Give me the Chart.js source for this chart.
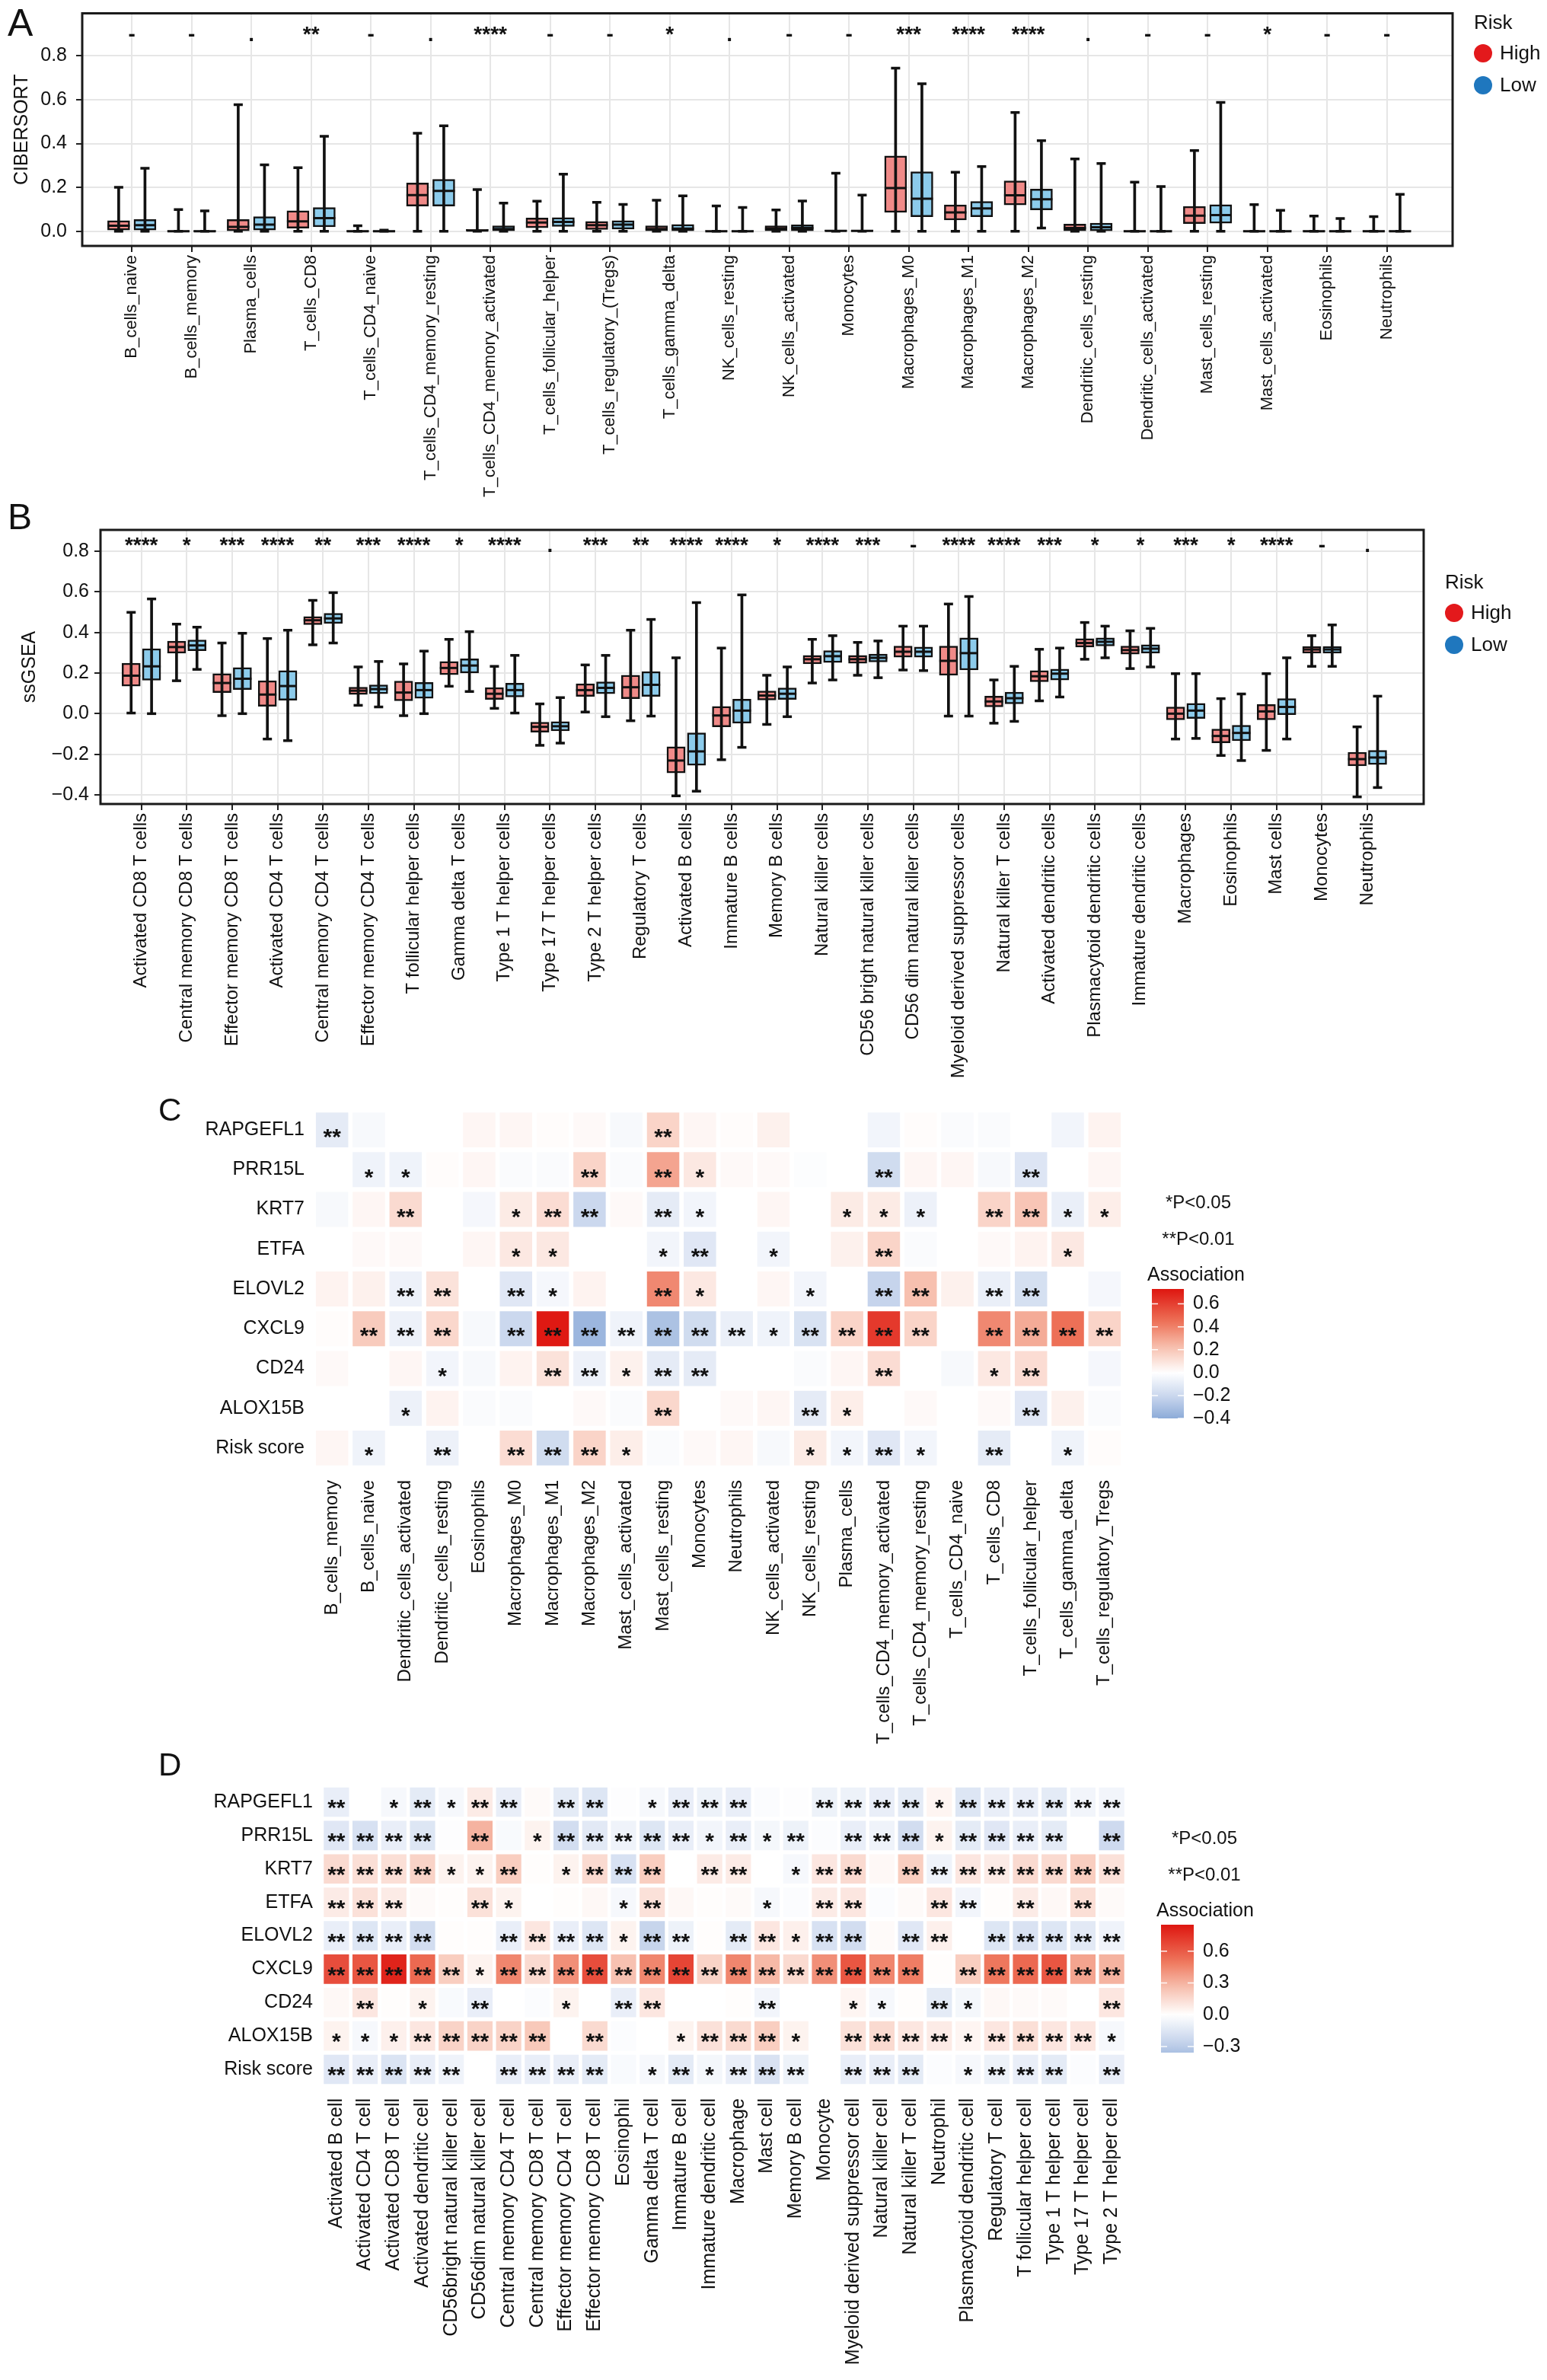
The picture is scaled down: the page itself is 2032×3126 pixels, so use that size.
<!DOCTYPE html>
<html>
<head>
<meta charset="utf-8">
<script src="https://cdn.jsdelivr.net/npm/chart.js@4.4.1/dist/chart.umd.min.js"></script>
<style>
html, body { margin: 0; padding: 0; background: #fff; }
#wrap { position: relative; width: 2032px; height: 3126px; background: #fff; }
canvas { position: absolute; left: 0; }
</style>
</head>
<body>
<div id="wrap">
	<canvas id="panelA" width="2032" height="668" style="top:0px"></canvas>
	<canvas id="panelB" width="2032" height="800" style="top:640px"></canvas>
	<canvas id="panelC" width="2032" height="900" style="top:1400px"></canvas>
	<canvas id="panelD" width="2032" height="836" style="top:2290px"></canvas>
</div>
<script>
// ---------- A: CIBERSORT ----------
const aCells = ["B_cells_naive", "B_cells_memory", "Plasma_cells", "T_cells_CD8", "T_cells_CD4_naive",
	"T_cells_CD4_memory_resting", "T_cells_CD4_memory_activated", "T_cells_follicular_helper",
	"T_cells_regulatory_(Tregs)", "T_cells_gamma_delta", "NK_cells_resting", "NK_cells_activated",
	"Monocytes", "Macrophages_M0", "Macrophages_M1", "Macrophages_M2", "Dendritic_cells_resting",
	"Dendritic_cells_activated", "Mast_cells_resting", "Mast_cells_activated", "Eosinophils", "Neutrophils"];
const aSig = ["-", "-", ".", "**", "-", ".", "****", "-", "-", "*", ".", "-", "-", "***", "****", "****", ".", "-", "-", "*", "-", "-"];
// [min, q1, median, q3, max]
const aHigh = [
	[0, 0.005, 0.025, 0.048, 0.200], [0, 0, 0, 0, 0.099], [0, 0.002, 0.020, 0.053, 0.577],
	[0, 0.014, 0.045, 0.093, 0.290], [0, 0, 0, 0, 0.025], [0, 0.115, 0.165, 0.220, 0.447],
	[0, 0, 0.003, 0.008, 0.190], [0, 0.016, 0.040, 0.060, 0.137], [0, 0.008, 0.028, 0.045, 0.132],
	[0, 0.002, 0.010, 0.025, 0.141], [0, 0, 0, 0.003, 0.115], [0, 0.002, 0.012, 0.025, 0.097],
	[0, 0, 0.002, 0.005, 0.265], [0, 0.086, 0.197, 0.343, 0.744], [0, 0.051, 0.086, 0.120, 0.269],
	[0, 0.120, 0.164, 0.230, 0.542], [0, 0.002, 0.015, 0.033, 0.330], [0, 0, 0, 0.002, 0.224],
	[0, 0.035, 0.071, 0.113, 0.368], [0, 0, 0, 0.002, 0.121], [0, 0, 0, 0.001, 0.069],
	[0, 0, 0, 0.001, 0.067]
];
const aLow = [
	[0, 0.005, 0.028, 0.053, 0.287], [0, 0, 0, 0, 0.093], [0, 0.005, 0.030, 0.066, 0.303],
	[0, 0.020, 0.060, 0.108, 0.433], [0, 0, 0, 0, 0.005], [0, 0.115, 0.184, 0.237, 0.481],
	[0, 0.002, 0.010, 0.025, 0.128], [0, 0.022, 0.042, 0.062, 0.260], [0, 0.010, 0.030, 0.048, 0.122],
	[0, 0.002, 0.012, 0.031, 0.161], [0, 0, 0, 0.003, 0.108], [0, 0.002, 0.015, 0.029, 0.138],
	[0, 0, 0.002, 0.005, 0.165], [0, 0.066, 0.148, 0.271, 0.673], [0, 0.066, 0.104, 0.136, 0.295],
	[0.015, 0.097, 0.146, 0.192, 0.413], [0, 0.002, 0.018, 0.037, 0.309], [0, 0, 0, 0.002, 0.204],
	[0, 0.037, 0.074, 0.121, 0.588], [0, 0, 0, 0.002, 0.095], [0, 0, 0, 0.001, 0.058],
	[0, 0, 0, 0.001, 0.168]
];
const aTicks = [0, 0.2, 0.4, 0.6, 0.8];

// ---------- B: ssGSEA ----------
const bCells = ["Activated CD8 T cells", "Central memory CD8 T cells", "Effector memory CD8 T cells",
	"Activated CD4 T cells", "Central memory CD4 T cells", "Effector memory CD4 T cells",
	"T follicular helper cells", "Gamma delta T cells", "Type 1 T helper cells", "Type 17 T helper cells",
	"Type 2 T helper cells", "Regulatory T cells", "Activated B cells", "Immature B cells", "Memory B cells",
	"Natural killer cells", "CD56 bright natural killer cells", "CD56 dim natural killer cells",
	"Myeloid derived suppressor cells", "Natural killer T cells", "Activated dendritic cells",
	"Plasmacytoid dendritic cells", "Immature dendritic cells", "Macrophages", "Eosinophils",
	"Mast cells", "Monocytes", "Neutrophils"];
const bSig = ["****", "*", "***", "****", "**", "***", "****", "*", "****", ".", "***", "**", "****", "****",
	"*", "****", "***", "-", "****", "****", "***", "*", "*", "***", "*", "****", "-", "."];
const bHigh = [
	[0.003, 0.136, 0.187, 0.248, 0.499], [0.162, 0.298, 0.328, 0.357, 0.441], [-0.010, 0.104, 0.151, 0.197, 0.348],
	[-0.125, 0.036, 0.094, 0.162, 0.370], [0.339, 0.438, 0.460, 0.478, 0.558], [0.041, 0.094, 0.113, 0.130, 0.230],
	[-0.010, 0.063, 0.104, 0.160, 0.245], [0.135, 0.192, 0.225, 0.257, 0.366], [0.026, 0.070, 0.098, 0.128, 0.233],
	[-0.156, -0.091, -0.065, -0.042, 0.048], [0.008, 0.085, 0.116, 0.147, 0.240], [-0.035, 0.074, 0.130, 0.189, 0.411],
	[-0.405, -0.292, -0.231, -0.163, 0.275], [-0.227, -0.065, -0.009, 0.036, 0.323], [-0.053, 0.067, 0.089, 0.112, 0.189],
	[0.151, 0.245, 0.268, 0.287, 0.366], [0.189, 0.248, 0.268, 0.287, 0.351], [0.215, 0.278, 0.305, 0.333, 0.431],
	[-0.012, 0.189, 0.260, 0.333, 0.540], [-0.047, 0.033, 0.060, 0.086, 0.166], [0.063, 0.157, 0.184, 0.212, 0.317],
	[0.268, 0.328, 0.348, 0.369, 0.449], [0.222, 0.293, 0.313, 0.333, 0.408], [-0.125, -0.030, 0.000, 0.033, 0.197],
	[-0.206, -0.144, -0.110, -0.076, 0.074], [-0.181, -0.030, 0.011, 0.045, 0.197], [0.233, 0.298, 0.316, 0.331, 0.384],
	[-0.410, -0.257, -0.224, -0.190, -0.065]
];
const bLow = [
	[0.000, 0.165, 0.233, 0.320, 0.565], [0.218, 0.310, 0.336, 0.363, 0.426], [0.000, 0.119, 0.172, 0.227, 0.396],
	[-0.133, 0.066, 0.136, 0.212, 0.411], [0.348, 0.444, 0.469, 0.494, 0.596], [0.033, 0.098, 0.121, 0.142, 0.257],
	[0.000, 0.076, 0.116, 0.154, 0.308], [0.109, 0.200, 0.237, 0.270, 0.404], [0.003, 0.082, 0.116, 0.150, 0.287],
	[-0.145, -0.085, -0.062, -0.039, 0.079], [-0.015, 0.098, 0.127, 0.157, 0.287], [-0.012, 0.085, 0.142, 0.207, 0.464],
	[-0.382, -0.254, -0.186, -0.095, 0.547], [-0.166, -0.047, 0.015, 0.071, 0.585], [-0.015, 0.070, 0.098, 0.127, 0.230],
	[0.166, 0.252, 0.283, 0.310, 0.384], [0.177, 0.255, 0.275, 0.293, 0.358], [0.212, 0.278, 0.305, 0.328, 0.431],
	[-0.012, 0.215, 0.298, 0.373, 0.577], [-0.038, 0.048, 0.076, 0.106, 0.233], [0.082, 0.166, 0.197, 0.219, 0.323],
	[0.275, 0.333, 0.354, 0.373, 0.431], [0.230, 0.298, 0.320, 0.339, 0.420], [-0.122, -0.024, 0.015, 0.051, 0.197],
	[-0.231, -0.133, -0.095, -0.057, 0.097], [-0.125, -0.005, 0.033, 0.074, 0.275], [0.233, 0.298, 0.316, 0.331, 0.437],
	[-0.364, -0.251, -0.216, -0.181, 0.086]
];
const bTicks = [-0.4, -0.2, 0, 0.2, 0.4, 0.6, 0.8];

// ---------- C: CIBERSORT association ----------
const genes = ["RAPGEFL1", "PRR15L", "KRT7", "ETFA", "ELOVL2", "CXCL9", "CD24", "ALOX15B", "Risk score"];
const cCells = ["B_cells_memory", "B_cells_naive", "Dendritic_cells_activated", "Dendritic_cells_resting",
	"Eosinophils", "Macrophages_M0", "Macrophages_M1", "Macrophages_M2", "Mast_cells_activated",
	"Mast_cells_resting", "Monocytes", "Neutrophils", "NK_cells_activated", "NK_cells_resting", "Plasma_cells",
	"T_cells_CD4_memory_activated", "T_cells_CD4_memory_resting", "T_cells_CD4_naive", "T_cells_CD8",
	"T_cells_follicular_helper", "T_cells_gamma_delta", "T_cells_regulatory_Tregs"];
const cValues = [
	[-0.10, -0.03, 0, 0, 0.03, 0.03, 0.01, 0.02, -0.03, 0.15, 0.03, 0.01, 0.05, 0, 0, -0.05, 0.01, -0.02, -0.02, 0, -0.05, 0.04],
	[0, -0.06, -0.06, 0.01, 0.03, -0.02, -0.02, 0.15, -0.02, 0.30, 0.08, 0.02, 0.02, -0.01, 0, -0.18, 0.03, 0.03, -0.03, -0.13, 0, 0.03],
	[-0.03, 0.03, 0.13, 0, -0.04, 0.07, 0.12, -0.20, 0.02, -0.10, -0.05, 0, 0.03, 0, 0.07, 0.07, -0.07, 0, 0.15, 0.20, -0.08, 0.06],
	[0, 0.02, 0.02, 0, 0.03, 0.08, 0.08, 0, 0, -0.05, -0.12, 0, -0.05, 0, 0.05, 0.15, -0.02, 0, 0.02, 0.04, 0.08, 0],
	[0.04, 0.05, -0.07, 0.10, 0, -0.12, -0.04, 0.04, 0, 0.38, 0.08, 0, 0.03, -0.05, 0, -0.22, 0.22, 0.05, -0.08, -0.16, 0, -0.04],
	[0.01, 0.18, -0.07, 0.14, -0.03, -0.20, 0.72, -0.35, -0.06, -0.30, -0.18, -0.08, -0.06, -0.15, 0.15, 0.62, 0.15, 0, 0.38, 0.28, 0.45, 0.15],
	[0.02, 0, 0.03, -0.05, -0.03, 0.04, 0.10, -0.07, 0.05, -0.10, -0.10, 0, 0, -0.02, 0.03, 0.12, 0, -0.03, 0.08, 0.12, 0, -0.04],
	[0, 0, -0.07, 0.04, -0.02, -0.02, 0, 0.02, -0.02, 0.14, 0, 0.02, 0.03, -0.10, 0.06, 0, 0.02, 0, 0.02, -0.12, 0.05, -0.02],
	[0.03, -0.06, 0, -0.07, 0, 0.12, -0.18, 0.15, 0.06, -0.02, 0.02, 0.03, -0.03, 0.07, -0.05, -0.12, -0.05, 0, -0.10, 0, -0.06, 0.01]
];
const cStars = [
	[2, 0, 0, 0, 0, 0, 0, 0, 0, 2, 0, 0, 0, 0, 0, 0, 0, 0, 0, 0, 0, 0],
	[0, 1, 1, 0, 0, 0, 0, 2, 0, 2, 1, 0, 0, 0, 0, 2, 0, 0, 0, 2, 0, 0],
	[0, 0, 2, 0, 0, 1, 2, 2, 0, 2, 1, 0, 0, 0, 1, 1, 1, 0, 2, 2, 1, 1],
	[0, 0, 0, 0, 0, 1, 1, 0, 0, 1, 2, 0, 1, 0, 0, 2, 0, 0, 0, 0, 1, 0],
	[0, 0, 2, 2, 0, 2, 1, 0, 0, 2, 1, 0, 0, 1, 0, 2, 2, 0, 2, 2, 0, 0],
	[0, 2, 2, 2, 0, 2, 2, 2, 2, 2, 2, 2, 1, 2, 2, 2, 2, 0, 2, 2, 2, 2],
	[0, 0, 0, 1, 0, 0, 2, 2, 1, 2, 2, 0, 0, 0, 0, 2, 0, 0, 1, 2, 0, 0],
	[0, 0, 1, 0, 0, 0, 0, 0, 0, 2, 0, 0, 0, 2, 1, 0, 0, 0, 0, 2, 0, 0],
	[0, 1, 0, 2, 0, 2, 2, 2, 1, 0, 0, 0, 0, 1, 1, 2, 1, 0, 2, 0, 1, 0]
];
const cBarTicks = [-0.4, -0.2, 0, 0.2, 0.4, 0.6];

// ---------- D: ssGSEA association ----------
const dCells = ["Activated B cell", "Activated CD4 T cell", "Activated CD8 T cell", "Activated dendritic cell",
	"CD56bright natural killer cell", "CD56dim natural killer cell", "Central memory CD4 T cell",
	"Central memory CD8 T cell", "Effector memory CD4 T cell", "Effector memory CD8 T cell", "Eosinophil",
	"Gamma delta T cell", "Immature B cell", "Immature dendritic cell", "Macrophage", "Mast cell",
	"Memory B cell", "Monocyte", "Myeloid derived suppressor cell", "Natural killer cell",
	"Natural killer T cell", "Neutrophil", "Plasmacytoid dendritic cell", "Regulatory T cell",
	"T follicular helper cell", "Type 1 T helper cell", "Type 17 T helper cell", "Type 2 T helper cell"];
const dValues = [
	[-0.10, 0, -0.04, -0.12, -0.04, 0.08, -0.10, 0.02, -0.12, -0.15, -0.01, -0.04, -0.10, -0.08, -0.10, -0.02, -0.01, -0.08, -0.08, -0.10, -0.12, 0.04, -0.15, -0.10, -0.10, -0.12, -0.06, -0.06],
	[-0.14, -0.18, -0.10, -0.15, -0.01, 0.30, -0.03, 0.05, -0.20, -0.13, -0.07, -0.15, -0.10, -0.06, -0.10, -0.05, -0.08, -0.02, -0.10, -0.07, -0.20, 0.05, -0.12, -0.14, -0.10, -0.12, 0, -0.22],
	[0.15, 0.13, 0.13, 0.18, 0.05, 0.05, 0.20, 0.01, 0.05, 0.15, -0.18, 0.20, 0, 0.08, 0.08, 0, -0.04, 0.10, 0.15, 0.03, 0.20, -0.07, 0.10, 0.08, 0.15, 0.15, 0.20, 0.12],
	[0.08, 0.12, 0.08, 0.02, 0.01, 0.12, 0.05, 0, 0.01, 0.03, -0.04, 0.12, 0.03, 0.01, 0.02, -0.04, -0.02, 0.08, 0.10, -0.02, 0.02, 0.10, -0.06, 0.01, 0.08, 0.03, 0.13, 0.02],
	[-0.10, -0.15, -0.10, -0.20, 0.01, 0.01, -0.10, 0.10, -0.10, -0.15, 0.05, -0.25, -0.08, 0.01, -0.12, 0.10, 0.06, -0.18, -0.20, 0.02, -0.14, 0.06, 0, -0.15, -0.17, -0.15, -0.13, -0.07],
	[0.65, 0.62, 0.80, 0.55, 0.20, 0.05, 0.45, 0.15, 0.42, 0.65, 0.25, 0.45, 0.68, 0.18, 0.45, 0.28, 0.15, 0.42, 0.62, 0.45, 0.48, 0.01, 0.20, 0.50, 0.55, 0.62, 0.35, 0.30],
	[0.03, 0.10, 0.01, 0.05, -0.03, -0.10, 0, -0.02, 0.05, 0, -0.10, 0.10, 0, 0, 0.01, -0.06, 0, 0, 0.04, -0.04, 0.01, -0.12, -0.05, 0.03, 0.02, 0.02, 0, 0.10],
	[0.05, -0.04, 0.06, 0.10, 0.18, 0.18, 0.18, 0.22, 0, 0.15, -0.02, 0, 0.05, 0.12, 0.15, 0.20, 0.05, 0, 0.12, 0.15, 0.10, 0.08, 0.04, 0.10, 0.13, 0.10, 0.10, -0.04],
	[-0.14, -0.10, -0.16, -0.10, -0.07, 0, -0.10, -0.10, -0.10, -0.12, -0.03, -0.04, -0.12, -0.05, -0.10, -0.17, -0.08, 0, -0.10, -0.10, -0.12, -0.02, -0.04, -0.08, -0.10, -0.12, -0.02, -0.10]
];
const dStars = [
	[2, 0, 1, 2, 1, 2, 2, 0, 2, 2, 0, 1, 2, 2, 2, 0, 0, 2, 2, 2, 2, 1, 2, 2, 2, 2, 2, 2],
	[2, 2, 2, 2, 0, 2, 0, 1, 2, 2, 2, 2, 2, 1, 2, 1, 2, 0, 2, 2, 2, 1, 2, 2, 2, 2, 0, 2],
	[2, 2, 2, 2, 1, 1, 2, 0, 1, 2, 2, 2, 0, 2, 2, 0, 1, 2, 2, 0, 2, 2, 2, 2, 2, 2, 2, 2],
	[2, 2, 2, 0, 0, 2, 1, 0, 0, 0, 1, 2, 0, 0, 0, 1, 0, 2, 2, 0, 0, 2, 2, 0, 2, 0, 2, 0],
	[2, 2, 2, 2, 0, 0, 2, 2, 2, 2, 1, 2, 2, 0, 2, 2, 1, 2, 2, 0, 2, 2, 0, 2, 2, 2, 2, 2],
	[2, 2, 2, 2, 2, 1, 2, 2, 2, 2, 2, 2, 2, 2, 2, 2, 2, 2, 2, 2, 2, 0, 2, 2, 2, 2, 2, 2],
	[0, 2, 0, 1, 0, 2, 0, 0, 1, 0, 2, 2, 0, 0, 0, 2, 0, 0, 1, 1, 0, 2, 1, 0, 0, 0, 0, 2],
	[1, 1, 1, 2, 2, 2, 2, 2, 0, 2, 0, 0, 1, 2, 2, 2, 1, 0, 2, 2, 2, 2, 1, 2, 2, 2, 2, 1],
	[2, 2, 2, 2, 2, 0, 2, 2, 2, 2, 0, 1, 2, 1, 2, 2, 2, 0, 2, 2, 2, 0, 1, 2, 2, 2, 0, 2]
];
const dBarTicks = [-0.3, 0, 0.3, 0.6];

const FONT = '"Liberation Sans", Arial, Helvetica, sans-serif';
Chart.defaults.font.family = FONT;
Chart.defaults.color = "#111";
const W = 2032;

function minus(v) {
	return v.toFixed(1).replace("-", "\u2212");
}

// colour scale white -> red / white -> blue
const redStops = [[0, [255, 255, 255]], [0.3, [247, 192, 175]], [0.6, [238, 116, 90]], [1, [222, 22, 16]]];
const blueStops = [[0, [255, 255, 255]], [0.3, [198, 212, 236]], [0.6, [128, 162, 212]], [1, [62, 106, 180]]];
function assocColor(v, m) {
	const t = Math.min(1, Math.abs(v) / m);
	const st = v >= 0 ? redStops : blueStops;
	for (let i = 1; i < st.length; i++) {
		if (t <= st[i][0]) {
			const f = (t - st[i - 1][0]) / (st[i][0] - st[i - 1][0]);
			const c = st[i - 1][1].map((a, k) => Math.round(a + (st[i][1][k] - a) * f));
			return "rgb(" + c.join(",") + ")";
		}
	}
	return "rgb(" + st[st.length - 1][1].join(",") + ")";
}

// boxplot extras: frame, significance marks, legend, panel letter
const boxDecor = {
	id: "boxDecor",
	afterDraw(chart, args, o) {
		const { ctx, chartArea: a, scales: { x, y } } = chart;
		ctx.save();
		ctx.strokeStyle = "#1a1a1a";
		ctx.lineWidth = 3;
		ctx.strokeRect(a.left, a.top, a.right - a.left, a.bottom - a.top);

		ctx.fillStyle = "#111";
		ctx.font = "bold 28px " + FONT;
		ctx.textAlign = "center";
		ctx.textBaseline = "alphabetic";
		o.sig.forEach((s, i) => ctx.fillText(s, x.getPixelForValue(i), y.getPixelForValue(o.sigY)));

		ctx.textAlign = "left";
		ctx.textBaseline = "middle";
		ctx.font = "26px " + FONT;
		ctx.fillText("Risk", o.legX - 12, o.legY);
		[["High", "#E3191C", o.legY + 39], ["Low", "#1F77BE", o.legY + 81]].forEach(([t, c, yy]) => {
			ctx.beginPath();
			ctx.arc(o.legX, yy, 12, 0, Math.PI * 2);
			ctx.fillStyle = c;
			ctx.fill();
			ctx.fillStyle = "#111";
			ctx.fillText(t, o.legX + 22, yy + 1);
		});

		ctx.font = o.letterSize + "px " + FONT;
		ctx.fillText(o.letter, o.letterX, o.letterY);
		ctx.restore();
	}
};

function boxDatasets(high, low, off, boxW) {
	const ds = [];
	[[high, -off, "#F08A88"], [low, off, "#8CCBEB"]].forEach(([arr, dx, fill]) => {
		ds.push({
			type: "bar", order: 3, grouped: false, barThickness: boxW,
			data: arr.map((d, i) => ({ x: i + dx, y: [d[1], Math.max(d[3], d[1] + 0.0005)] })),
			backgroundColor: fill, borderColor: "#111", borderWidth: 2.5, borderSkipped: false
		});
		ds.push({
			type: "bar", order: 2, grouped: false, barThickness: 3,
			data: arr.map((d, i) => ({ x: i + dx, y: [d[0], d[4]] })),
			backgroundColor: "#111", borderWidth: 0
		});
		ds.push({
			type: "line", order: 1, showLine: false,
			data: arr.map((d, i) => ({ x: i + dx, y: d[2] })),
			pointStyle: "line", pointRadius: boxW / 2, pointBorderWidth: 3, pointBorderColor: "#111"
		});
		ds.push({
			type: "line", order: 1, showLine: false,
			data: arr.flatMap((d, i) => [{ x: i + dx, y: d[0] }, { x: i + dx, y: d[4] }]),
			pointStyle: "line", pointRadius: 6, pointBorderWidth: 3.5, pointBorderColor: "#111"
		});
	});
	return ds;
}

function boxChart(id, c) {
	const H = document.getElementById(id).height;
	return new Chart(document.getElementById(id), {
		type: "bar",
		data: { datasets: boxDatasets(c.high, c.low, c.off, c.boxW) },
		options: {
			responsive: false, animation: false, devicePixelRatio: 1, events: [],
			layout: { padding: { left: 0, top: c.area.top, right: W - c.area.right, bottom: 0 } },
			plugins: { legend: { display: false }, tooltip: { enabled: false }, boxDecor: c.decor },
			scales: {
				x: {
					type: "linear", min: c.xMin, max: c.xMax, offset: false,
					afterBuildTicks: (s) => { s.ticks = c.names.map((n, i) => ({ value: i })); },
					afterFit: (s) => { s.height = H - c.area.bottom; s.paddingLeft = 0; s.paddingRight = 0; },
					grid: { color: "#E6E6E6", lineWidth: 2, tickColor: "#222", tickWidth: 2, tickLength: 8, offset: false },
					border: { display: false },
					ticks: {
						autoSkip: false, minRotation: 90, maxRotation: 90, padding: 4,
						font: { size: c.xFont }, color: "#111",
						callback: (v) => c.names[v] ?? ""
					}
				},
				y: {
					min: c.yMin, max: c.yMax,
					afterBuildTicks: (s) => { s.ticks = c.yTicks.map((v) => ({ value: v })); },
					afterFit: (s) => { s.width = c.area.left; s.paddingTop = 0; s.paddingBottom = 0; },
					grid: { color: "#E6E6E6", lineWidth: 2, tickColor: "#222", tickWidth: 2, tickLength: 8 },
					border: { display: false },
					ticks: { padding: c.yPad, font: { size: 25 }, color: "#111", callback: (v) => minus(v) },
					title: { display: true, text: c.title, font: { size: 25 }, color: "#111", padding: { top: c.titlePad, bottom: 0 } }
				}
			}
		},
		plugins: [boxDecor]
	});
}

// heatmap extras: stars, colour bar, p-value notes, panel letter
const heatDecor = {
	id: "heatDecor",
	afterDraw(chart, args, o) {
		const { ctx, scales: { x, y } } = chart;
		ctx.save();
		ctx.fillStyle = "#111";
		ctx.font = "bold 30px " + FONT;
		ctx.textAlign = "center";
		ctx.textBaseline = "middle";
		o.stars.forEach((row, ri) => row.forEach((n, ci) => {
			if (n > 0) ctx.fillText("*".repeat(n), x.getPixelForValue(ci), y.getPixelForValue(ri) + o.starDy);
		}));

		const L = o.leg;
		ctx.font = "24px " + FONT;
		ctx.textBaseline = "middle";
		ctx.fillText("*P<0.05", L.cx, L.p1);
		ctx.fillText("**P<0.01", L.cx, L.p2);
		ctx.textAlign = "left";
		ctx.font = "25px " + FONT;
		ctx.fillText("Association", L.x - 6, L.title);

		const vy = (v) => L.bottom - (v - L.vmin) / (L.vmax - L.vmin) * (L.bottom - L.top);
		const g = ctx.createLinearGradient(0, L.bottom, 0, L.top);
		for (let k = 0; k <= 20; k++) {
			const v = L.vmin + (L.vmax - L.vmin) * k / 20;
			g.addColorStop(k / 20, assocColor(v, o.max));
		}
		ctx.fillStyle = g;
		ctx.fillRect(L.x, L.top, L.w, L.bottom - L.top);
		ctx.strokeStyle = "rgba(255,255,255,0.9)";
		ctx.lineWidth = 1.5;
		ctx.font = "25px " + FONT;
		ctx.fillStyle = "#111";
		L.ticks.forEach((v) => {
			const py = vy(v);
			ctx.beginPath();
			ctx.moveTo(L.x, py); ctx.lineTo(L.x + 8, py);
			ctx.moveTo(L.x + L.w - 8, py); ctx.lineTo(L.x + L.w, py);
			ctx.stroke();
			ctx.fillText(minus(v), L.x + L.w + 12, py);
		});

		ctx.font = "42px " + FONT;
		ctx.fillText(o.letter, o.letterX, o.letterY);
		ctx.restore();
	}
};

function heatChart(id, c) {
	const H = document.getElementById(id).height;
	return new Chart(document.getElementById(id), {
		type: "bar",
		data: {
			labels: c.cols,
			datasets: genes.map((g, ri) => ({
				label: g,
				data: c.cols.map(() => [ri - 0.44, ri + 0.44]),
				backgroundColor: c.vals[ri].map((v) => assocColor(v, c.max)),
				borderWidth: 0, grouped: false, barPercentage: 0.88, categoryPercentage: 1
			}))
		},
		options: {
			responsive: false, animation: false, devicePixelRatio: 1, events: [],
			layout: { padding: { left: 0, top: c.area.top, right: W - c.area.right, bottom: 0 } },
			plugins: { legend: { display: false }, tooltip: { enabled: false }, heatDecor: c.decor },
			scales: {
				x: {
					afterFit: (s) => { s.height = H - c.area.bottom; s.paddingLeft = 0; s.paddingRight = 0; },
					grid: { display: false }, border: { display: false },
					ticks: { autoSkip: false, minRotation: 90, maxRotation: 90, padding: 8, font: { size: c.xFont }, color: "#111" }
				},
				y: {
					type: "linear", min: -0.5, max: 8.5, reverse: true,
					afterBuildTicks: (s) => { s.ticks = genes.map((g, i) => ({ value: i })); },
					afterFit: (s) => { s.width = c.area.left; s.paddingTop = 0; s.paddingBottom = 0; },
					grid: { display: false }, border: { display: false },
					ticks: { padding: 4, font: { size: c.rowFont }, color: "#111", callback: (v) => genes[v] ?? "" }
				}
			}
		},
		plugins: [heatDecor]
	});
}

boxChart("panelA", {
	names: aCells, high: aHigh, low: aLow, off: 0.22, boxW: 29,
	xMin: -0.83, xMax: 22.1, yMin: -0.067, yMax: 0.994, yTicks: aTicks,
	area: { left: 108, right: 1908, top: 16, bottom: 323 }, xFont: 22, yPad: 12,
	title: "CIBERSORT", titlePad: 14,
	decor: { sig: aSig, sigY: 0.867, legX: 1948, legY: 31, letter: "A", letterX: 10, letterY: 33, letterSize: 50 }
});

boxChart("panelB", {
	names: bCells, high: bHigh, low: bLow, off: 0.225, boxW: 24,
	xMin: -0.9, xMax: 28.24, yMin: -0.445, yMax: 0.905, yTicks: bTicks,
	area: { left: 132, right: 1870, top: 56, bottom: 416 }, xFont: 24, yPad: 7,
	title: "ssGSEA", titlePad: 24,
	decor: { sig: bSig, sigY: 0.795, legX: 1910, legY: 126, letter: "B", letterX: 10, letterY: 42, letterSize: 48 }
});

heatChart("panelC", {
	cols: cCells, vals: cValues, max: 0.73, xFont: 24, rowFont: 25,
	area: { left: 412, right: 1475, top: 58, bottom: 528 },
	decor: {
		stars: cStars, max: 0.73, letter: "C", letterX: 208, letterY: 60, starDy: 11,
		leg: { cx: 1574, p1: 180, p2: 228, title: 275, x: 1513, w: 42, top: 293, bottom: 463, vmin: -0.4, vmax: 0.73, ticks: cBarTicks }
	}
});

heatChart("panelD", {
	cols: dCells, vals: dValues, max: 0.85, xFont: 25, rowFont: 25,
	area: { left: 423, right: 1479, top: 55, bottom: 450 },
	decor: {
		stars: dStars, max: 0.85, letter: "D", letterX: 208, letterY: 30, starDy: 9,
		leg: { cx: 1582, p1: 125, p2: 173, title: 220, x: 1525, w: 43, top: 238, bottom: 406, vmin: -0.357, vmax: 0.85, ticks: dBarTicks }
	}
});
</script>
</body>
</html>
